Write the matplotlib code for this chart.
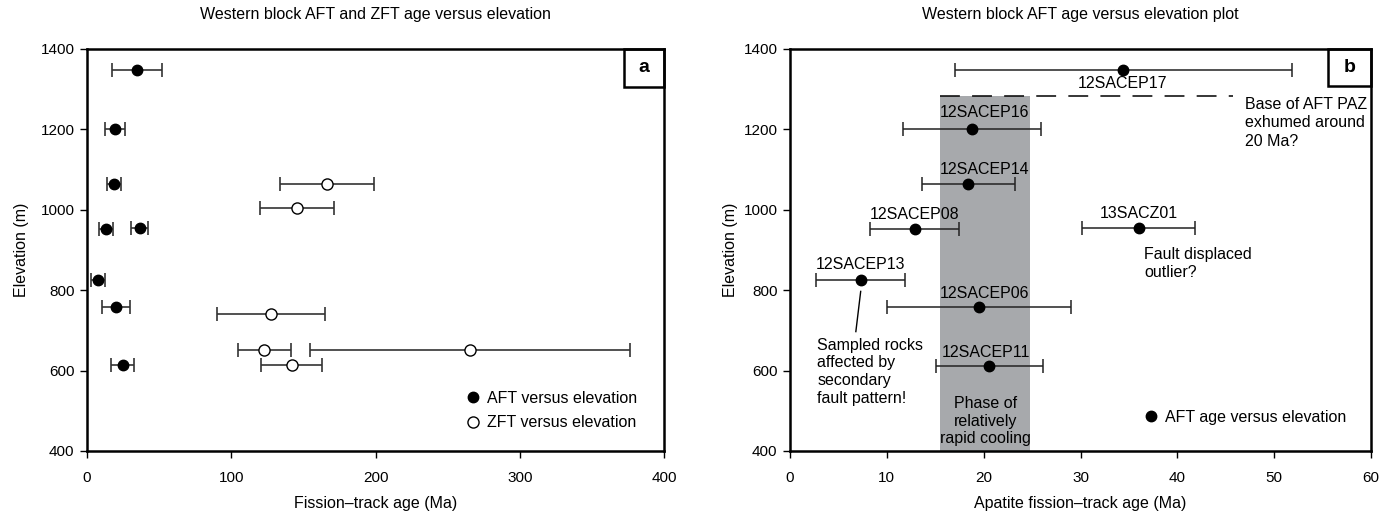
import matplotlib
matplotlib.use("Agg")
import matplotlib.pyplot as plt
from matplotlib.patches import Rectangle

plt.rcParams['font.family'] = ['Liberation Sans Narrow', 'Liberation Sans', 'DejaVu Sans']

# ---------------- Panel a data ----------------
aft_a_age = [34.6, 19.2, 18.7, 13.1, 36.5, 7.5, 20.1, 24.7]
aft_a_err = [17.3, 7.0, 4.8, 4.6, 5.8, 4.8, 9.6, 8.2]
aft_a_elev = [1348, 1202, 1063, 952, 955, 825, 757, 613]

zft_age = [166.4, 145.4, 127.6, 122.9, 265.5, 141.9]
zft_err = [32.6, 25.5, 37.5, 18.3, 111.0, 21.0]
zft_elev = [1063, 1005, 742, 652, 652, 613]

# ---------------- Panel b data ----------------
samples = ['12SACEP17', '12SACEP16', '12SACEP14', '12SACEP08', '13SACZ01',
           '12SACEP13', '12SACEP06', '12SACEP11']
aft_b_age = [34.4, 18.8, 18.4, 12.9, 36.0, 7.3, 19.5, 20.6]
aft_b_err = [17.4, 7.1, 4.8, 4.6, 5.8, 4.6, 9.5, 5.5]
aft_b_elev = [1348, 1202, 1063, 952, 955, 825, 757, 611]
label_x = [34.3, 20.1, 20.1, 12.9, 36.0, 7.3, 20.1, 20.2]
label_y = [1313, 1241, 1100, 988, 992, 864, 792, 646]

band_x = (15.5, 24.8)
band_top = 1283
paz_x = (15.5, 45.8)

fig = plt.figure(figsize=(13.85, 5.16), dpi=100)
axa = fig.add_axes([87/1385, 1-451/516, 577/1385, 402/516])
axb = fig.add_axes([790/1385, 1-451/516, 581/1385, 402/516])

for ax in (axa, axb):
    for s in ax.spines.values():
        s.set_linewidth(1.8)
    ax.set_ylim(400, 1400)
    ax.set_yticks([400, 600, 800, 1000, 1200, 1400])
    ax.tick_params(direction='out', length=5, width=1.0, labelsize=11)
    ax.tick_params(axis='y', pad=4)
    ax.tick_params(axis='x', pad=9.5)

axa.set_ylabel('Elevation (m)', fontsize=11.5, labelpad=8)
axb.set_ylabel('Elevation (m)', fontsize=11.5, labelpad=4)

# ---- panel a ----
axa.set_xlim(0, 400)
axa.set_xticks([0, 100, 200, 300, 400])
axa.errorbar(aft_a_age, aft_a_elev, xerr=aft_a_err, fmt='none', ecolor='#333333',
             elinewidth=1.2, capsize=5, capthick=1.2, zorder=2)
axa.errorbar(zft_age, zft_elev, xerr=zft_err, fmt='none', ecolor='#333333',
             elinewidth=1.2, capsize=5, capthick=1.2, zorder=2)
axa.plot(aft_a_age, aft_a_elev, 'o', color='black', ms=7.5, zorder=3,
         label='AFT versus elevation')
axa.plot(zft_age, zft_elev, 'o', mfc='white', mec='black', mew=1.0, ms=8, zorder=3,
         label='ZFT versus elevation')
axa.legend(loc='lower right', bbox_to_anchor=(0.968, 0.032), frameon=False,
           fontsize=11.5, handletextpad=0.3, borderpad=0, labelspacing=0.6,
           handlelength=1.2)
axa.set_xlabel('Fission\u2013track age (Ma)', fontsize=11.5, labelpad=8)
axa.text(0.5, 1 + 34/402, 'Western block AFT and ZFT age versus elevation',
         transform=axa.transAxes, ha='center', va='center', fontsize=11.5)
axa.add_patch(Rectangle((1-40/577, 1-38/402), 40/577, 38/402, transform=axa.transAxes,
                        fill=False, lw=1.8, ec='black', clip_on=False, zorder=5))
axa.text(1-20/577, 1-19/402, 'a', transform=axa.transAxes, ha='center', va='center',
         fontsize=14, fontweight='bold', family=['Liberation Sans'])

# ---- panel b ----
axb.set_xlim(0, 60)
axb.set_xticks([0, 10, 20, 30, 40, 50, 60])
axb.axvspan(band_x[0], band_x[1], ymin=0, ymax=(band_top-400)/1000,
            color='#a7a9ac', lw=0, zorder=0)
axb.plot(paz_x, [band_top, band_top], color='black', lw=1.1, dashes=(13, 8), zorder=1)
axb.errorbar(aft_b_age, aft_b_elev, xerr=aft_b_err, fmt='none', ecolor='#222222',
             elinewidth=1.1, capsize=5, capthick=1.1, zorder=2)
axb.plot(aft_b_age, aft_b_elev, 'o', color='black', ms=7.5, zorder=3,
         label='AFT age versus elevation')
for s, x, y in zip(samples, label_x, label_y):
    axb.text(x, y, s, ha='center', va='center', fontsize=11.5,
             family=['Liberation Sans'])
axb.text(47.0, 1281, 'Base of AFT PAZ\nexhumed around\n20 Ma?', ha='left', va='top',
         fontsize=11.5, family=['Liberation Sans'], linespacing=1.3)
axb.text(36.6, 907, 'Fault displaced\noutlier?', ha='left', va='top',
         fontsize=11.5, family=['Liberation Sans'], linespacing=1.25)
axb.text(2.8, 682, 'Sampled rocks\naffected by\nsecondary\nfault pattern!', ha='left',
         va='top', fontsize=11.5, family=['Liberation Sans'], linespacing=1.22)
axb.plot([7.3, 6.8], [797, 697], color='black', lw=1.0)
axb.text(20.2, 412, 'Phase of\nrelatively\nrapid cooling', ha='center', va='bottom',
         fontsize=11.5, family=['Liberation Sans'], linespacing=1.22)
axb.legend(loc='lower right', bbox_to_anchor=(0.972, 0.045), frameon=False,
           fontsize=11.5, handletextpad=0.3, borderpad=0, handlelength=1.2)
axb.set_xlabel('Apatite fission\u2013track age (Ma)', fontsize=11.5, labelpad=8)
axb.text(0.5, 1 + 34/402, 'Western block AFT age versus elevation plot',
         transform=axb.transAxes, ha='center', va='center', fontsize=11.5)
axb.add_patch(Rectangle((1-43/581, 1-37/402), 43/581, 37/402, transform=axb.transAxes,
                        fill=False, lw=1.8, ec='black', clip_on=False, zorder=5))
axb.text(1-21.5/581, 1-18.5/402, 'b', transform=axb.transAxes, ha='center', va='center',
         fontsize=14, fontweight='bold', family=['Liberation Sans'])

fig.savefig('out.png', dpi=100)
